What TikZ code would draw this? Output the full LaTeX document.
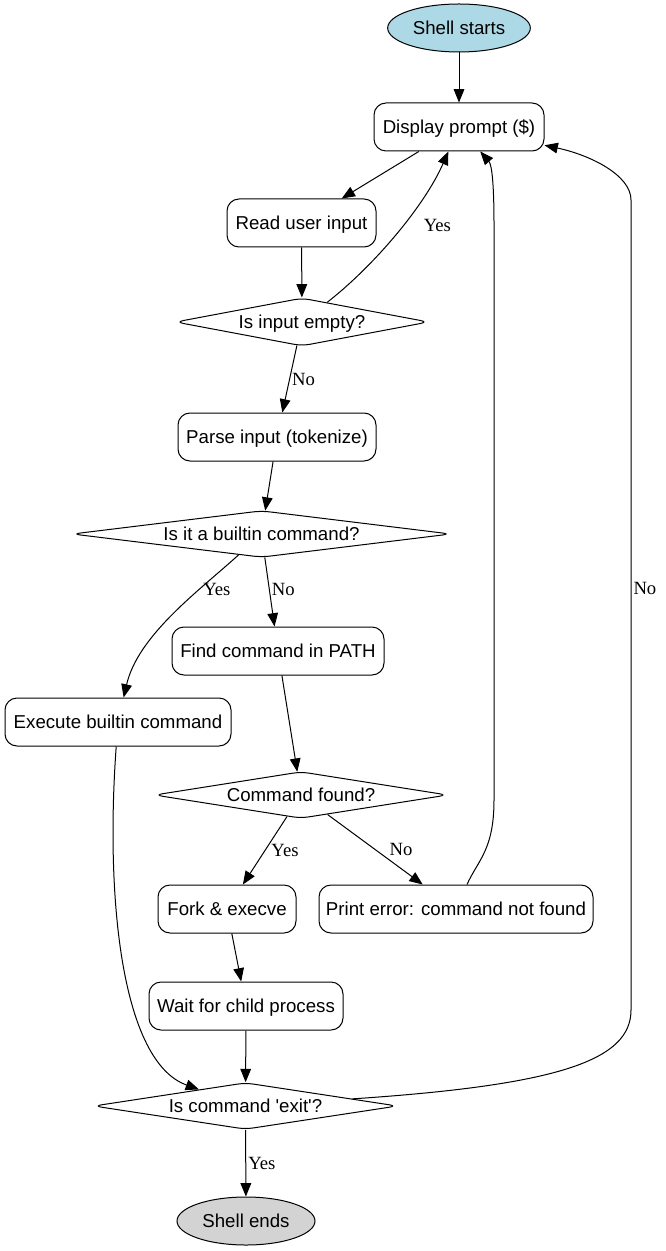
\documentclass[tikz,border=0pt]{standalone}
\usepackage{fontspec}
\setmainfont{Liberation Serif}
\newfontfamily\arialfont{Liberation Sans}
\usepackage{tikz}
\usetikzlibrary{shapes.geometric, arrows.meta, calc}
\definecolor{startblue}{HTML}{ADD8E6}
\definecolor{endgray}{HTML}{D3D3D3}
\tikzset{
  shapebase/.style={draw, inner sep=0pt, text height=10pt, text depth=0pt,
    font=\arialfont\fontsize{14}{16}\selectfont},
  procbox/.style={shapebase, rounded corners=9pt, minimum height=36pt},
  decision/.style={shapebase, diamond, aspect=7, rounded corners=6pt, minimum height=35pt},
  termnode/.style={shapebase, ellipse, minimum height=36pt},
  lbl/.style={font=\fontsize{14}{16}\selectfont, inner sep=1.5pt},
  flow/.style={-{Triangle[length=10pt,width=8pt]}}
}

\begin{document}
\begin{tikzpicture}[x=0.75pt, y=-0.75pt, line width=0.75pt]
    \useasboundingbox (0,0) rectangle (665,1251);
    % nodes
    \node[termnode, fill=startblue, minimum width=107pt] (start) at (459,28) {Shell starts};
    \node[procbox, minimum width=127.5pt] (prompt) at (459,127) {Display prompt (\$)};
    \node[procbox, minimum width=111.75pt] (readin) at (301.5,223) {Read user input};
    \node[decision, minimum width=190pt, minimum height=36pt] (isempty) at (302,322) {Is input empty?};
    \node[procbox, minimum width=148.5pt] (parse) at (277,437) {Parse input (tokenize)};
    \node[decision, minimum width=284pt] (builtin) at (261.5,534) {Is it a builtin command?};
    \node[procbox, minimum width=159pt] (findcmd) at (278,651) {Find command in PATH};
    \node[procbox, minimum width=169.5pt] (execbi) at (118,722) {Execute builtin command};
    \node[decision, minimum width=220pt] (found) at (301,795) {Command found?};
    \node[procbox, minimum width=103.5pt] (fork) at (227,909) {Fork \& execve};
    \node[procbox, minimum width=205.5pt] (perr) at (456,909) {Print error: command not found};
    \node[procbox, minimum width=145.5pt] (waitc) at (246,1006) {Wait for child process};
    \node[decision, minimum width=228pt] (isexit) at (245.5,1106) {Is command \textquotesingle exit\textquotesingle?};
    \node[termnode, fill=endgray, minimum width=103.5pt] (stop) at (246,1221) {Shell ends};
    % edges
    \draw[flow] (start) -- (prompt);
    \draw[flow] (prompt) -- (readin);
    \draw[flow] (readin) -- (isempty);
    \draw[flow] (isempty) .. controls (375,265) and (425,205) .. node[lbl, pos=0.55, right=13.5pt] {Yes} (prompt);
    \draw[flow] (isempty) -- node[lbl, right] {No} (parse);
    \draw[flow] (parse) -- (builtin);
    \draw[flow] (builtin) .. controls (200,590) and (138,635) .. node[lbl, pos=0.3, right=1pt] {Yes} (execbi);
    \draw[flow] (builtin) -- node[lbl, pos=0.47, right] {No} (findcmd);
    \draw[flow] (findcmd) -- (found);
    \draw[flow] (execbi) .. controls (105,900) and (122,1062) .. (isexit);
    \draw[flow] (found) -- node[lbl, right=3pt] {Yes} (fork);
    \draw[flow] (found) -- node[lbl, right=9pt] {No} (perr);
    \draw[flow] (perr) .. controls (478,860) and (494,850) .. (494,800) -- (494,225)
        .. controls (494,185) and (492,165) .. (prompt);
    \draw[flow] (fork) -- (waitc);
    \draw[flow] (waitc) -- (isexit);
    \draw[flow] (isexit) .. controls (560,1085) and (631,1060) .. (631,1010)
        -- node[lbl, pos=0.52, right] {No} (631,200)
        .. controls (631,175) and (590,155) .. (prompt);
    \draw[flow] (isexit) -- node[lbl, right] {Yes} (stop);
\end{tikzpicture}
\end{document}
